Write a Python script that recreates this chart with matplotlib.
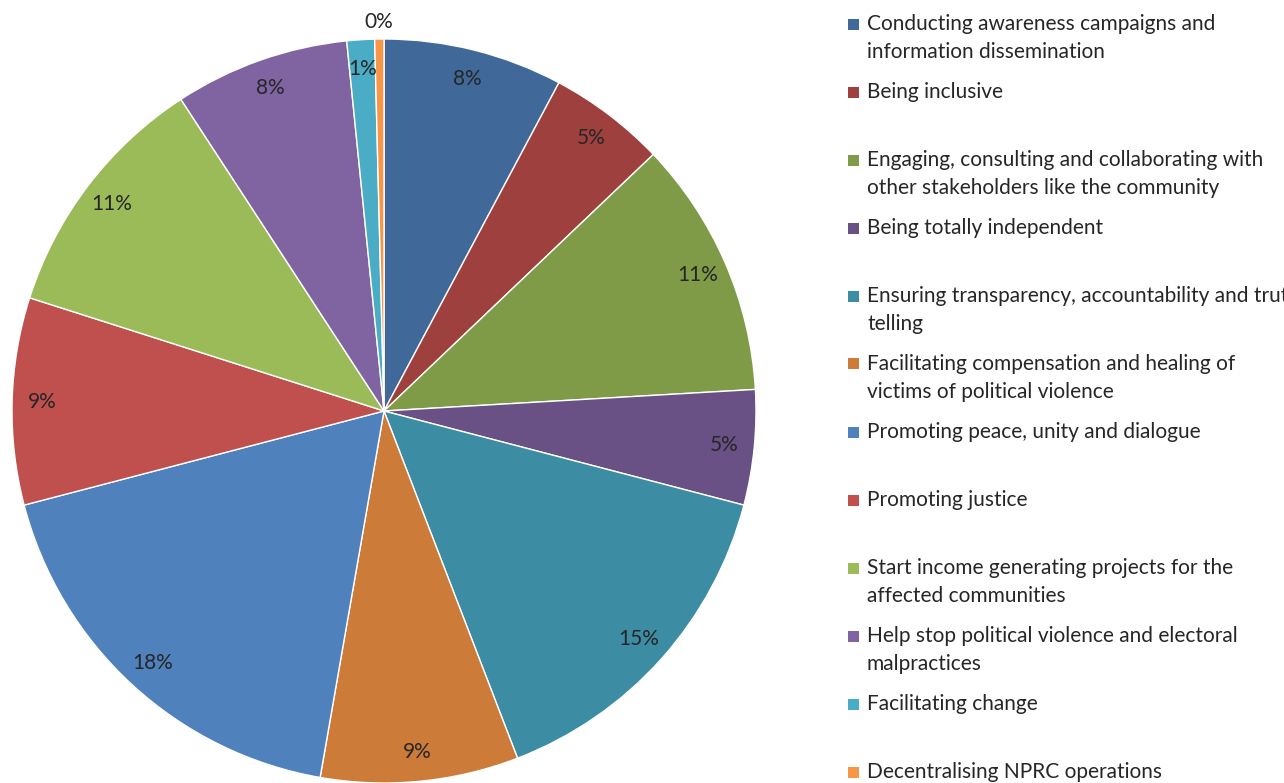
import matplotlib
matplotlib.use("Agg")
import matplotlib.pyplot as plt
from matplotlib.patches import Rectangle
import numpy as np

labels = [
    "Conducting awareness campaigns and\ninformation dissemination",
    "Being inclusive",
    "Engaging, consulting and collaborating with\nother stakeholders like the community",
    "Being totally independent",
    "Ensuring transparency, accountability and truth\ntelling",
    "Facilitating compensation and healing of\nvictims of political violence",
    "Promoting peace, unity and dialogue",
    "Promoting justice",
    "Start income generating projects for the\naffected communities",
    "Help stop political violence and electoral\nmalpractices",
    "Facilitating change",
    "Decentralising NPRC operations",
]
values = [7.8, 5.1, 11.2, 5.0, 15.1, 8.6, 18.2, 9.0, 10.9, 7.6, 1.2, 0.4]
colors = ["#40699A", "#9E413E", "#7F9B48", "#695185", "#3C8DA3", "#CC7B38",
          "#4F81BD", "#C0504D", "#9BBB59", "#8064A2", "#4BACC6", "#F79646"]

plt.rcParams['font.family'] = ['Lato', 'DejaVu Sans']
W, H = 1284, 783
fig = plt.figure(figsize=(W / 100, H / 100), dpi=100)
fig.patch.set_facecolor("white")

cx, cy, R = 384, 411, 372
ax = fig.add_axes([(cx - R) / W, (H - cy - R) / H, 2 * R / W, 2 * R / H])
ax.axis("off")

wedges, texts, autotexts = ax.pie(
    values, colors=colors, startangle=90, counterclock=False, radius=1,
    autopct=lambda p: f"{p:.0f}%", pctdistance=0.92,
    wedgeprops=dict(edgecolor="white", linewidth=1),
    textprops=dict(fontsize=15, color="#262626"))
ax.set_xlim(-1, 1)
ax.set_ylim(-1, 1)
ax.set_aspect("equal")
for a in ax.patches:
    a.set_clip_on(False)

# last (tiny) slice label sits outside
w = wedges[-1]
ang = np.deg2rad((w.theta1 + w.theta2) / 2)
autotexts[-1].set_position((1.045 * np.cos(ang), 1.045 * np.sin(ang)))

# legend drawn manually
x_box, x_txt = 848, 867
y0, step, lstep = 24, 68, 28
for i, (lab, col) in enumerate(zip(labels, colors)):
    y = y0 + step * i
    fig.patches.append(Rectangle((x_box / W, (H - y - 5.5) / H), 11 / W, 11 / H,
                                 transform=fig.transFigure, facecolor=col,
                                 edgecolor="none"))
    for j, line in enumerate(lab.split("\n")):
        fig.text(x_txt / W, (H - y - lstep * j) / H, line, fontsize=15,
                 color="#262626", va="center", ha="left")

fig.savefig("out.png", dpi=100, facecolor="white")
